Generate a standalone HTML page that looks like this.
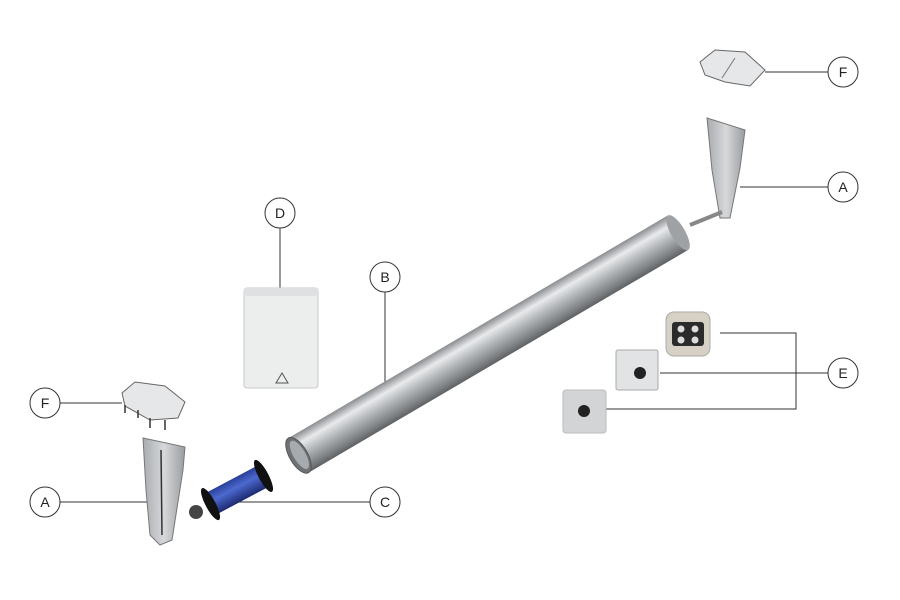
<!DOCTYPE html>
<html><head><meta charset="utf-8"><style>
html,body{margin:0;padding:0;background:#fff;}
svg{display:block}
text{font-family:"Liberation Sans",sans-serif;font-size:14px;fill:#222}
</style></head><body>
<svg width="900" height="600" viewBox="0 0 900 600" xmlns="http://www.w3.org/2000/svg">
<defs>
<linearGradient id="tube" x1="0" y1="0" x2="0" y2="1">
<stop offset="0" stop-color="#8a8d90"/><stop offset="0.25" stop-color="#e8eaec"/><stop offset="0.5" stop-color="#b8bbbe"/><stop offset="0.85" stop-color="#7d8083"/><stop offset="1" stop-color="#5e6164"/>
</linearGradient>
<linearGradient id="blue" x1="0" y1="0" x2="0" y2="1">
<stop offset="0" stop-color="#2a3f9a"/><stop offset="0.4" stop-color="#4d6ad0"/><stop offset="1" stop-color="#1c2a70"/>
</linearGradient>
<linearGradient id="arm" x1="0" y1="0" x2="1" y2="0">
<stop offset="0" stop-color="#a9acb0"/><stop offset="0.5" stop-color="#d6d8da"/><stop offset="1" stop-color="#9a9da0"/>
</linearGradient>
</defs>
<g stroke="#333" stroke-width="1" fill="none">
<line x1="765" y1="72" x2="828" y2="72"/>
<line x1="740" y1="187" x2="828" y2="187"/>
<line x1="280" y1="228" x2="280" y2="292"/>
<line x1="385" y1="292" x2="385" y2="382"/>
<polyline points="720,333 796,333 796,409 605,409"/>
<line x1="660" y1="373" x2="828" y2="373"/>
<line x1="60" y1="403" x2="122" y2="403"/>
<line x1="60" y1="502" x2="147" y2="502"/>
<line x1="228" y1="502" x2="370" y2="502"/>
</g>
<g fill="#fff" stroke="#333" stroke-width="1">
<circle cx="843" cy="72" r="15"/><circle cx="843" cy="187" r="15"/>
<circle cx="280" cy="213" r="15"/><circle cx="385" cy="277" r="15"/>
<circle cx="843" cy="373" r="15"/><circle cx="45" cy="403" r="15"/>
<circle cx="45" cy="502" r="15"/><circle cx="385" cy="502" r="15"/>
</g>
<g text-anchor="middle">
<text x="843" y="77">F</text><text x="843" y="192">A</text><text x="280" y="218">D</text>
<text x="385" y="282">B</text><text x="843" y="378">E</text><text x="45" y="408">F</text>
<text x="45" y="507">A</text><text x="385" y="507">C</text>
</g>
<!-- tube -->
<g transform="translate(490,343) rotate(-30.4)">
<rect x="-222" y="-20" width="440" height="40" fill="url(#tube)"/>
<ellipse cx="218" cy="0" rx="7" ry="20" fill="#9fa2a5"/>
<ellipse cx="-222" cy="0" rx="9" ry="20" fill="#6f7275" stroke="#555"/>
<ellipse cx="-221" cy="0" rx="6" ry="16" fill="#a8abae"/>
</g>
<!-- D box -->
<rect x="244" y="288" width="74" height="100" rx="3" fill="#eceded" stroke="#c8c9ca"/>
<rect x="244" y="288" width="74" height="8" fill="#dfe0e1"/>
<polygon points="282,373 276,383 288,383" fill="none" stroke="#555"/>
<!-- top F plate -->
<polygon points="700,62 715,50 745,52 765,70 750,86 725,82 705,75" fill="#e6e7e8" stroke="#666"/>
<line x1="735" y1="58" x2="722" y2="78" stroke="#777"/>
<!-- right A -->
<polygon points="707,118 745,130 740,168 730,218 720,218 712,170" fill="url(#arm)" stroke="#777"/>
<line x1="690" y1="225" x2="722" y2="212" stroke="#888" stroke-width="4"/>
<!-- left F plate -->
<polygon points="122,393 135,382 165,386 185,402 178,418 150,420 125,406" fill="#e6e7e8" stroke="#666"/>
<g stroke="#333" stroke-width="1.5"><line x1="125" y1="405" x2="125" y2="413"/><line x1="138" y1="410" x2="138" y2="418"/><line x1="150" y1="418" x2="150" y2="428"/><line x1="165" y1="420" x2="165" y2="430"/></g>
<!-- left A -->
<polygon points="143,438 185,447 183,470 172,540 160,545 150,535 146,490" fill="url(#arm)" stroke="#777"/>
<line x1="161" y1="450" x2="162" y2="535" stroke="#333" stroke-width="1.5"/>
<!-- C motor -->
<g transform="translate(237,490) rotate(-28)">
<rect x="-28" y="-12" width="56" height="24" fill="url(#blue)"/>
<ellipse cx="-30" cy="0" rx="5" ry="18" fill="#111"/>
<ellipse cx="30" cy="0" rx="5" ry="18" fill="#111"/>
</g>
<circle cx="196" cy="512" r="7" fill="#444"/>
<!-- E devices -->
<rect x="666" y="312" width="44" height="44" rx="8" fill="#d6d1c4" stroke="#aaa"/>
<rect x="672" y="322" width="32" height="24" rx="3" fill="#2b2b2b"/>
<circle cx="681" cy="329" r="3.5" fill="#ddd"/><circle cx="695" cy="329" r="3.5" fill="#ddd"/>
<circle cx="681" cy="340" r="3.5" fill="#ddd"/><circle cx="695" cy="340" r="3.5" fill="#ddd"/>
<rect x="616" y="350" width="42" height="40" rx="2" fill="#e2e3e4" stroke="#aaa"/>
<circle cx="640" cy="373" r="6" fill="#222"/>
<rect x="563" y="390" width="43" height="43" rx="3" fill="#d3d4d5" stroke="#bbb"/>
<circle cx="584" cy="411" r="6" fill="#222"/>
</svg>
</body></html>
